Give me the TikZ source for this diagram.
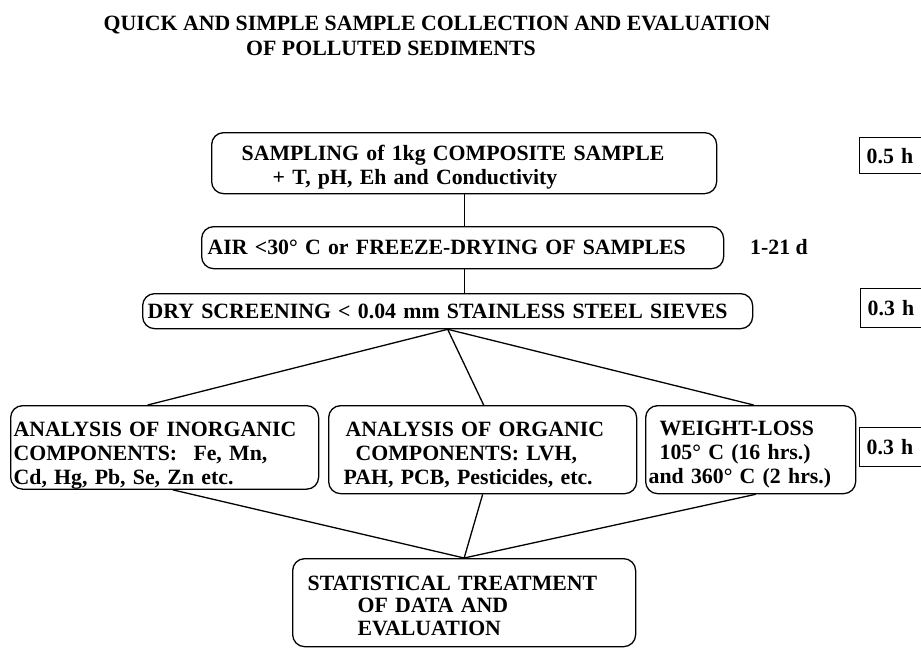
\documentclass[tikz,border=0pt]{standalone}
\usepackage{fontspec}
\setmainfont{Liberation Serif}
\usetikzlibrary{positioning, calc}
\newcommand{\toppad}[1]{\rule{0pt}{#1pt}}

\begin{document}
\begin{tikzpicture}[
    x=1pt, y=-1pt,
    box/.style={rectangle, draw, line width=1.3pt, rounded corners=12pt, anchor=north west, inner xsep=2pt, inner ysep=0pt, align=left, font=\bfseries\fontsize{21.8}{24}\selectfont},
    hbox/.style={rectangle, draw, line width=1.3pt, anchor=north west, inner xsep=7pt, inner ysep=0pt, text width=60pt, align=left, font=\bfseries\fontsize{21.8}{24}\selectfont},
    lbl/.style={font=\bfseries\fontsize{21.8}{24}\selectfont, inner sep=0pt},
    ttl/.style={font=\bfseries\fontsize{21.8}{24}\selectfont, inner sep=0pt},
    line/.style={line width=1.3pt}
]
\clip (0,0) rectangle (921,648);
\fill[white] (0,0) rectangle (921,648);

% Title
\node[ttl] (ttl1) at (437,25) {QUICK AND SIMPLE SAMPLE COLLECTION AND EVALUATION};
\node[ttl] (ttl2) at (391,48) {OF POLLUTED SEDIMENTS};

% Preparation steps
\node[box, text width=501pt, minimum height=61pt] (samp) at (211,132)
    {\toppad{23.7}\hspace*{28pt}SAMPLING of 1kg COMPOSITE SAMPLE\\\hspace*{59pt}+ T, pH, Eh and Conductivity};
\node[box, text width=518pt, minimum height=42pt] (dry) at (201,226)
    {\hspace*{4pt}AIR <30\textdegree{} C or FREEZE-DRYING OF SAMPLES};
\node[box, text width=606pt, minimum height=35pt] (scr) at (142,293)
    {\hspace*{3pt}DRY SCREENING < 0.04 mm STAINLESS STEEL SIEVES};

% Times
\node[hbox, minimum height=36pt] (t1) at (859,137) {0.5 h};
\node[lbl, anchor=west] (days) at (750,247) {1-21 d};
\node[hbox, minimum height=39pt] (t2) at (860,288) {0.3 h};
\node[hbox, minimum height=39pt] (t3) at (859,427) {0.3 h};

% Analyses
\node[box, text width=304pt, minimum height=82pt] (inorg) at (10,405)
    {\toppad{30.7}\hspace*{1pt}ANALYSIS OF INORGANIC\\\hspace*{1pt}COMPONENTS:\hspace{0.75em}Fe, Mn,\\\hspace*{1pt}Cd, Hg, Pb, Se, Zn etc.};
\node[box, text width=304pt, minimum height=88pt] (org) at (328,405)
    {\toppad{24.7}\hspace*{15pt}ANALYSIS OF ORGANIC\\\hspace*{25pt}COMPONENTS: LVH,\\\hspace*{13pt}PAH, PCB, Pesticides, etc.};
\node[box, text width=206pt, minimum height=88pt] (wloss) at (645,405)
    {\toppad{24.7}\hspace*{12pt}WEIGHT-LOSS\\\hspace*{12pt}105\textdegree{} C (16 hrs.)\\\hspace*{1pt}and 360\textdegree{} C (2 hrs.)};

% Evaluation
\node[box, text width=339pt, minimum height=88pt, font=\bfseries\fontsize{21.8}{22.5}\selectfont] (stat) at (292,558)
    {\toppad{21}\hspace*{13pt}STATISTICAL TREATMENT\\\hspace*{63pt}OF DATA AND\\\hspace*{63pt}EVALUATION};

% Connectors
\draw[line] (samp.south) -- (samp.south |- dry.north);
\draw[line] (samp.south |- dry.south) -- (samp.south |- scr.north);
\draw[line] (scr.south) -- ([xshift=-17pt]inorg.north);
\draw[line] (scr.south) -- ([xshift=1pt]org.north);
\draw[line] (scr.south) -- ([xshift=3pt]wloss.north);
\draw[line] ([xshift=8pt]inorg.south) -- (stat.north);
\draw[line] (org.south) -- (stat.north);
\draw[line] ([xshift=5pt]wloss.south) -- (stat.north);
\end{tikzpicture}
\end{document}
